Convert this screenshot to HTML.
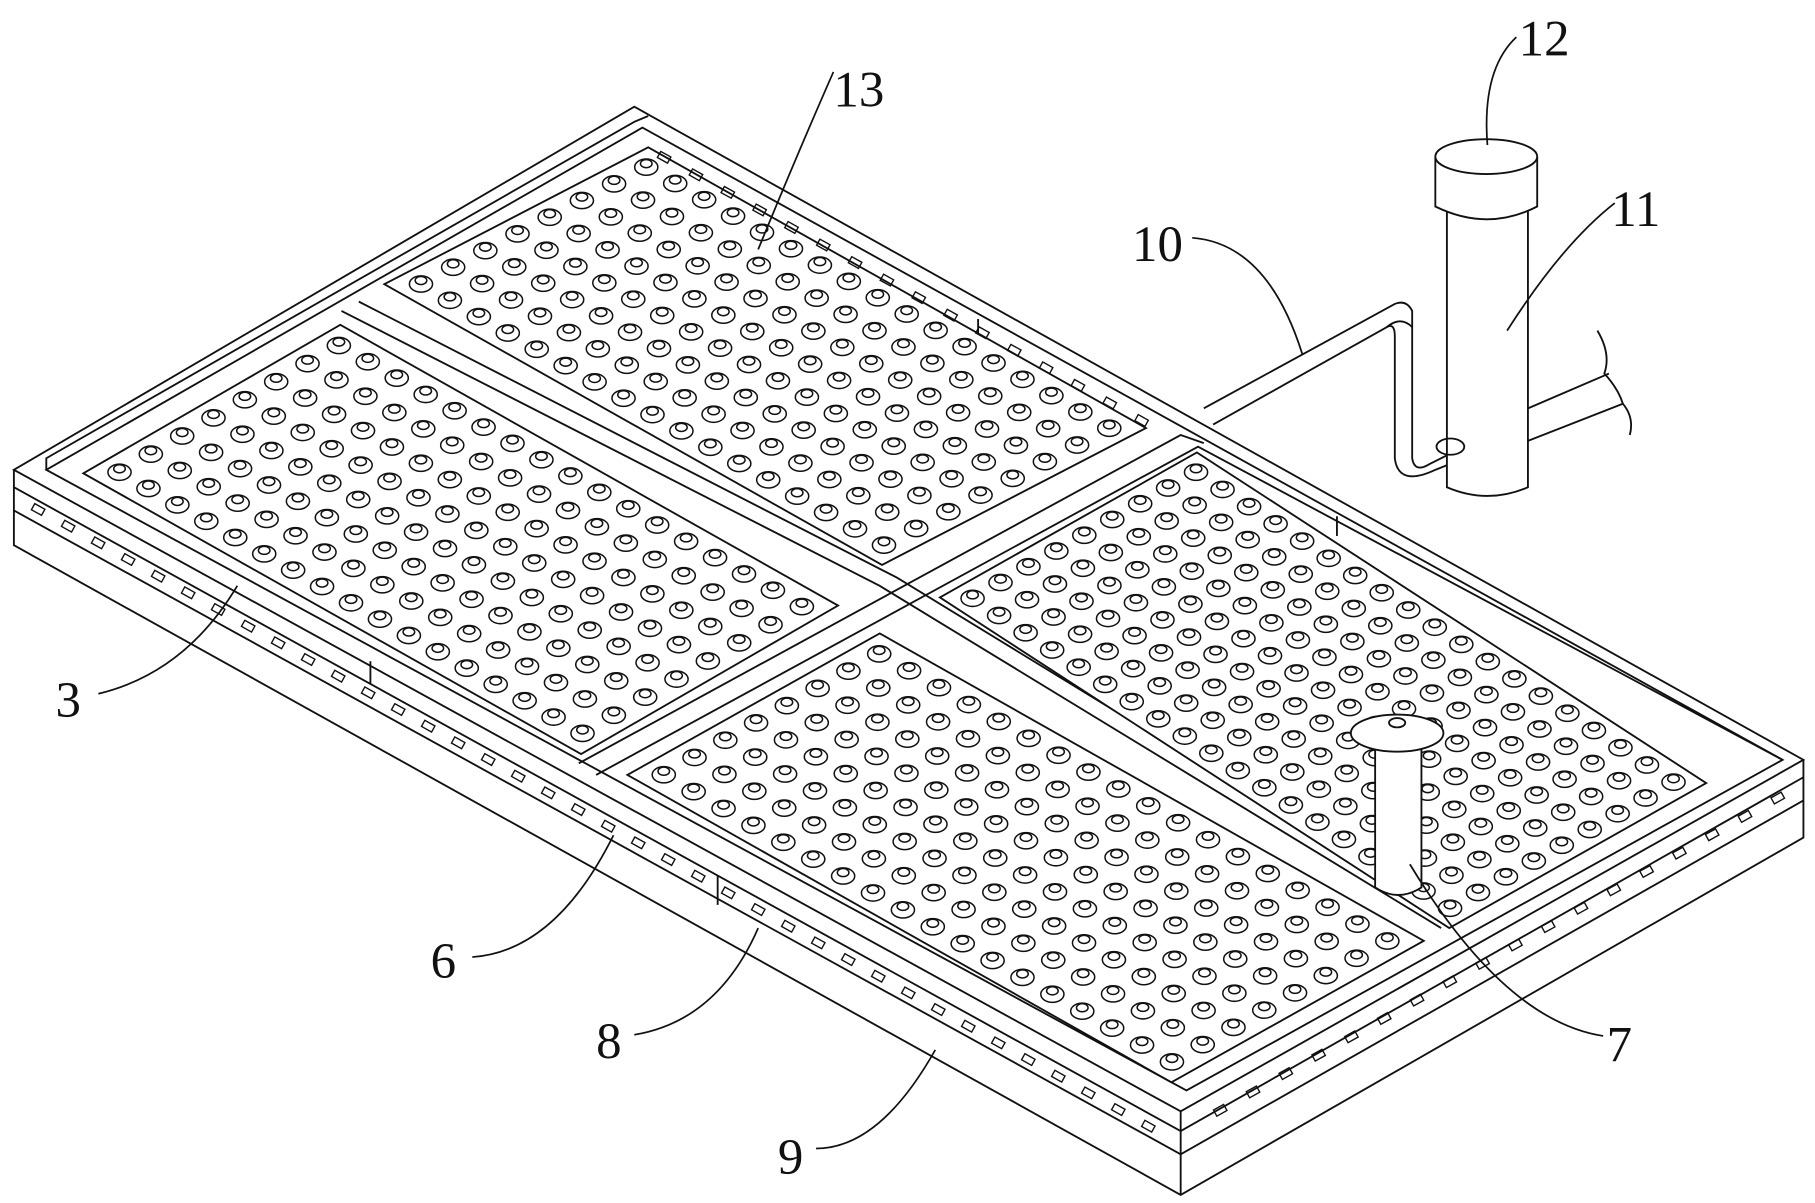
<!DOCTYPE html>
<html><head><meta charset="utf-8"><style>
html,body{margin:0;padding:0;background:#fff;width:1815px;height:1203px;overflow:hidden}
svg{display:block}
text{font-family:"Liberation Serif",serif;font-size:44px;fill:#111}
</style></head><body>
<svg id="s" width="1815" height="1203" viewBox="0 0 1568 1037" preserveAspectRatio="none" fill="none" stroke="#111" stroke-width="1.6">
<polygon points="12,405 548,92 1558,655 1020,958" fill="#fff"/>
<polyline points="12,405 12,470 1020,1030 1558,722 1558,655"/>
<polyline points="12,420 1020,975 1558,670"/>
<polyline points="12,440 1020,995 1558,690"/>
<line x1="1020" y1="958" x2="1020" y2="1030"/>
<polygon points="40,405 555,110 1540,655 1025,940"/>
<polyline points="40,405 40,395 548,105 560,100"/>
<polyline points="295,268 760,505 1245,800"/>
<polyline points="310,260 775,498 1262,795"/>
<polyline points="500,658 1020,375 1040,382"/>
<polyline points="515,668 1035,385 1540,655"/>
<line x1="320" y1="570" x2="320" y2="590"/>
<line x1="620" y1="755" x2="620" y2="780"/>
<line x1="845" y1="275" x2="845" y2="292"/>
<line x1="1155" y1="445" x2="1155" y2="462"/>
<g id="panels" fill="#fff"></g>
<g id="studs" stroke-width="1.3"></g>
<g id="slots" stroke-width="1.2"></g>
<path d="M1040,352 L1205,262 Q1215,258 1220,268 L1220,395 Q1222,408 1235,400 L1265,385" fill="#fff"/>
<path d="M1048,366 L1198,282 Q1205,278 1205,290 L1205,395 Q1208,420 1240,405 L1265,395" />
<path d="M1198,282 Q1210,272 1220,282"/>
<path d="M1320,352 L1390,322"/>
<path d="M1320,380 L1402,348"/>
<path d="M1380,285 Q1392,305 1386,322 Q1398,335 1402,348 Q1412,360 1408,375"/>
<path d="M1250,180 L1250,420 Q1285,435 1320,420 L1320,180" fill="#fff"/>
<path d="M1240,135 L1240,178 Q1285,200 1328,178 L1328,135" fill="#fff"/>
<ellipse cx="1284" cy="135" rx="44" ry="15" fill="#fff"/>
<ellipse cx="1253" cy="385" rx="12" ry="7"/>
<path d="M1188,640 L1188,765 Q1208,778 1228,765 L1228,640" fill="#fff"/>
<ellipse cx="1207" cy="632" rx="40" ry="16" fill="#fff"/>
<ellipse cx="1207" cy="623" rx="7" ry="4"/>
<g stroke-width="1.5">
<path d="M655,215 Q690,130 720,62"/>
<path d="M1285,125 Q1280,60 1310,32"/>
<path d="M1302,285 Q1350,210 1395,175"/>
<path d="M1125,305 Q1095,210 1030,205"/>
<path d="M205,505 Q160,580 85,598"/>
<path d="M530,720 Q480,820 408,825"/>
<path d="M655,800 Q620,880 548,892"/>
<path d="M808,905 Q760,990 705,990"/>
<path d="M1218,745 Q1300,880 1385,893"/>
</g>
<g stroke="none">
<text x="720" y="92">13</text>
<text x="1312" y="48">12</text>
<text x="1392" y="195">11</text>
<text x="978" y="225">10</text>
<text x="48" y="618">3</text>
<text x="372" y="843">6</text>
<text x="515" y="912">8</text>
<text x="672" y="1012">9</text>
<text x="1388" y="915">7</text>
</g>
</svg>
<script>
var NS="http://www.w3.org/2000/svg";
function el(p,t,a){var e=document.createElementNS(NS,t);for(var k in a)e.setAttribute(k,a[k]);p.appendChild(e);return e;}
var P=document.getElementById('panels'),S=document.getElementById('studs'),L=document.getElementById('slots');
var panels=[
 {o:[72,408],u:[430,242],v:[222,-128],nu:17,nv:8},
 {o:[332,245],u:[430,242],v:[228,-118],nu:17,nv:8},
 {o:[542,668],u:[470,265],v:[218,-122],nu:18,nv:8},
 {o:[812,515],u:[440,285],v:[222,-125],nu:19,nv:9}
];
panels.forEach(function(p){
 var o=p.o,u=p.u,v=p.v;
 el(P,'polygon',{points:[o,[o[0]+v[0],o[1]+v[1]],[o[0]+u[0]+v[0],o[1]+u[1]+v[1]],[o[0]+u[0],o[1]+u[1]]].map(function(a){return a.join(',')}).join(' ')});
 for(var i=0;i<p.nu;i++)for(var j=0;j<p.nv;j++){
  var a=(i+0.6)/(p.nu+0.2),b=(j+0.6)/(p.nv+0.2);
  var x=o[0]+u[0]*a+v[0]*b,y=o[1]+u[1]*a+v[1]*b;
  el(S,'ellipse',{cx:x,cy:y,rx:10,ry:7,fill:'#fff'});
  el(S,'ellipse',{cx:x,cy:y-3,rx:5,ry:3.5});
 }
});
function slots(x1,y1,x2,y2,n){for(var i=0;i<n;i++){var t=(i+0.5)/n,x=x1+(x2-x1)*t,y=y1+(y2-y1)*t;el(L,'rect',{x:x-5,y:y-3,width:10,height:6,transform:'rotate(29 '+x+' '+y+')'});}}
slots(20,432,1005,978,38);
function slots2(x1,y1,x2,y2,n){for(var i=0;i<n;i++){var t=(i+0.5)/n,x=x1+(x2-x1)*t,y=y1+(y2-y1)*t;el(L,'rect',{x:x-5,y:y-3,width:10,height:6,transform:'rotate(-29 '+x+' '+y+')'});}}
slots2(1040,965,1550,680,18);
slots(560,128,1000,370,16);
</script>
</body></html>
